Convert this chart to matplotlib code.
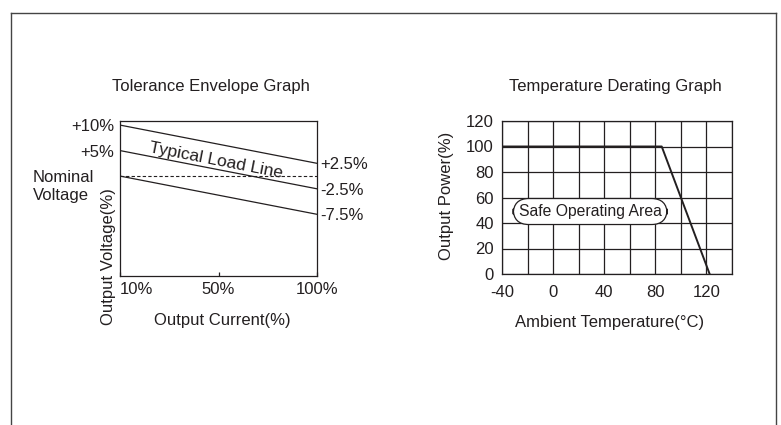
import numpy as np
import matplotlib.pyplot as plt
from matplotlib.lines import Line2D

plt.rcParams['font.family'] = ['Liberation Sans', 'DejaVu Sans']
plt.rcParams['axes.unicode_minus'] = False

INK = "#231f20"

# tolerance envelope data
current_pos = [0, 2]                      # 10% .. 100% (index positions)
current_labels = ["10%", "50%", "100%"]
upper_env = [10, 2.5]
typical_line = [5, -2.5]
lower_env = [0, -7.5]
nominal = [0, 0]
left_ticks = [10, 5]
left_tick_labels = ["+10%", "+5%"]
right_ticks = [2.5, -2.5, -7.5]
right_tick_labels = ["+2.5%", "-2.5%", "-7.5%"]

# temperature derating data
temp = [-40, 85, 122.5]
power = [100, 100, 0]
temp_ticks = [-40, 0, 40, 80, 120]
power_ticks = [0, 20, 40, 60, 80, 100, 120]

fig = plt.figure(figsize=(7.81, 4.25), dpi=100)
W, H = 781, 425


def fx(px):
    return px / W


def fy(py):
    return 1 - py / H


# outer frame
for xs, ys in [([11, 11], [13, 425]), ([776, 776], [13, 425]), ([11, 776], [13, 13])]:
    fig.add_artist(Line2D([fx(x) for x in xs], [fy(y) for y in ys], color="#444444", lw=1.0))

# -----------------------------
# Tolerance Envelope Graph
# -----------------------------
ax1 = fig.add_axes([fx(120), fy(276), fx(317) - fx(120), fy(121) - fy(276)])
ax1.plot(current_pos, upper_env, color=INK, lw=0.9)
ax1.plot(current_pos, typical_line, color=INK, lw=0.9)
ax1.plot(current_pos, lower_env, color=INK, lw=0.9)
ax1.plot(current_pos, nominal, color=INK, lw=0.8, ls=(0, (3, 2)))
ax1.set_xlim(0, 2)
ax1.set_ylim(-19.6, 10.8)
for s in ax1.spines.values():
    s.set_color(INK)
    s.set_linewidth(0.9)

ax1.set_xticks([0, 1, 2])
ax1.set_xticklabels(current_labels, fontsize=12, color=INK)
ax1.tick_params(axis="x", direction="in", length=3, width=0.9, pad=4, colors=INK)
ax1.get_xticklabels()[0].set_ha("left")
ax1.set_yticks(left_ticks)
ax1.set_yticklabels(left_tick_labels, fontsize=12, color=INK)
ax1.tick_params(axis="y", length=0, pad=4)

ax1r = ax1.twinx()
ax1r.set_ylim(ax1.get_ylim())
ax1r.set_yticks(right_ticks)
ax1r.set_yticklabels(right_tick_labels, fontsize=12, color=INK)
ax1r.tick_params(axis="y", length=0, pad=2)
for s in ax1r.spines.values():
    s.set_visible(False)

fig.text(fx(33), fy(170), "Nominal\nVoltage", fontsize=12, color=INK,
         ha="left", va="top", linespacing=1.25, multialignment="left")
ax1.text(0.97, 3.0, "Typical Load Line", fontsize=12.5, color=INK,
         rotation=-11, ha="center", va="center")

fig.text(fx(211), fy(86), "Tolerance Envelope Graph", fontsize=12, color=INK,
         ha="center", va="center")
fig.text(fx(222), fy(320), "Output Current(%)", fontsize=12, color=INK,
         ha="center", va="center")
fig.text(fx(108), fy(257), "Output Voltage(%)", fontsize=12, color=INK,
         ha="center", va="center", rotation=90)

# -----------------------------
# Temperature Derating Graph
# -----------------------------
ax2 = fig.add_axes([fx(502), fy(274), fx(732) - fx(502), fy(121) - fy(274)])
ax2.set_xlim(-40, 140)
ax2.set_ylim(0, 120)
ax2.set_yticks(power_ticks)
ax2.set_xticks(temp_ticks)
ax2.set_xticks(np.arange(-40, 141, 20), minor=True)
ax2.grid(True, which="both", color=INK, lw=0.9)
ax2.set_axisbelow(True)
ax2.tick_params(which="both", length=0, colors=INK, labelsize=12)
ax2.tick_params(axis="x", pad=8)
ax2.tick_params(axis="y", pad=6)
for s in ax2.spines.values():
    s.set_color(INK)
    s.set_linewidth(0.9)

ax2.plot(temp, power, color=INK, lw=1.4)
ax2.text(29, 49, "Safe Operating Area", fontsize=11.3, color=INK,
         ha="center", va="center",
         bbox=dict(boxstyle="round,pad=0.35,rounding_size=1.0",
                   fc="white", ec=INK, lw=0.9))

fig.text(fx(615), fy(86), "Temperature Derating Graph", fontsize=12, color=INK,
         ha="center", va="center")
fig.text(fx(610), fy(322), "Ambient Temperature(°C)", fontsize=12, color=INK,
         ha="center", va="center")
fig.text(fx(447), fy(196), "Output Power(%)", fontsize=12, color=INK,
         ha="center", va="center", rotation=90)

fig.savefig("out.png", dpi=100)
